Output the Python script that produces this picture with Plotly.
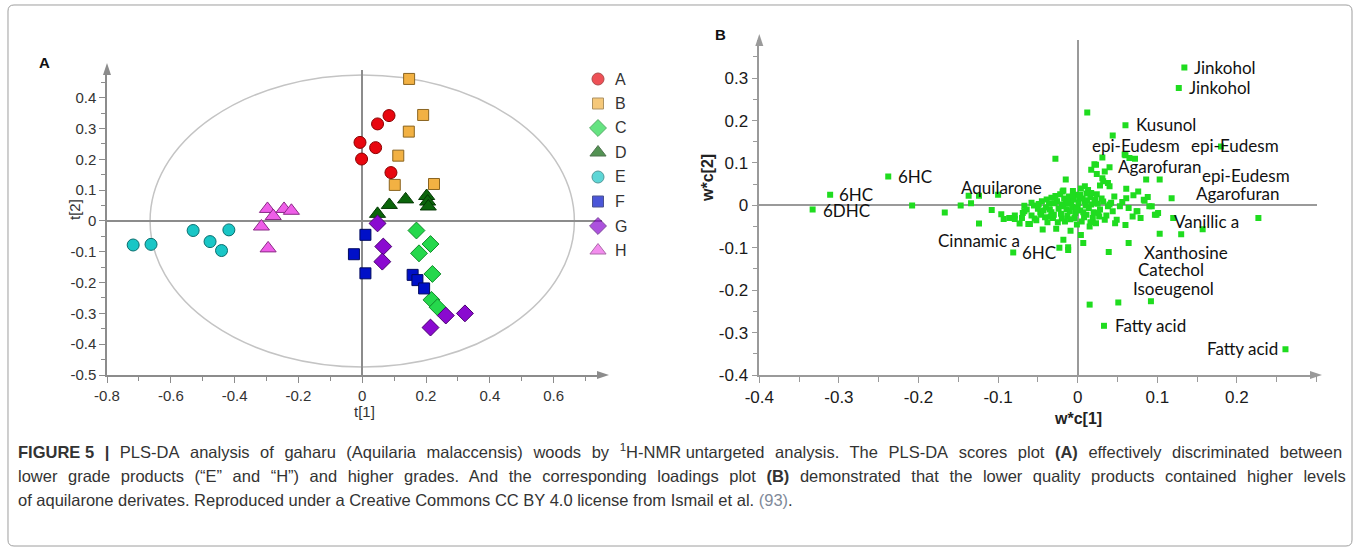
import plotly.graph_objects as go

# ---------------- Panel A: PLS-DA scores ----------------
groups = ["A", "B", "C", "D", "E", "F", "G", "H"]
a_x = [0.084, 0.048, -0.007, 0.042, -0.002, 0.090]
a_y = [0.342, 0.315, 0.255, 0.238, 0.201, 0.157]
b_x = [0.147, 0.191, 0.146, 0.113, 0.102, 0.225]
b_y = [0.461, 0.344, 0.290, 0.212, 0.117, 0.120]
c_x = [0.170, 0.214, 0.178, 0.220, 0.217, 0.236]
c_y = [-0.031, -0.075, -0.105, -0.172, -0.256, -0.280]
d_x = [0.048, 0.085, 0.136, 0.202, 0.205, 0.207]
d_y = [0.023, 0.052, 0.070, 0.081, 0.063, 0.047]
e_x = [-0.718, -0.662, -0.530, -0.477, -0.441, -0.418]
e_y = [-0.078, -0.076, -0.031, -0.067, -0.096, -0.029]
f_x = [0.010, -0.026, 0.010, 0.158, 0.173, 0.194]
f_y = [-0.045, -0.108, -0.170, -0.175, -0.192, -0.219]
g_x = [0.048, 0.066, 0.063, 0.262, 0.322, 0.214]
g_y = [-0.008, -0.083, -0.132, -0.307, -0.300, -0.346]
h_x = [-0.297, -0.279, -0.316, -0.295, -0.245, -0.222]
h_y = [0.039, 0.016, -0.018, -0.089, 0.039, 0.033]

a_xt = [-0.8, -0.6, -0.4, -0.2, 0, 0.2, 0.4, 0.6]
a_xl = ["-0.8", "-0.6", "-0.4", "-0.2", "0", "0.2", "0.4", "0.6"]
a_yt = [-0.5, -0.4, -0.3, -0.2, -0.1, 0, 0.1, 0.2, 0.3, 0.4]
a_yl = ["-0.5", "-0.4", "-0.3", "-0.2", "-0.1", "0", "0.1", "0.2", "0.3", "0.4"]

# ---------------- Panel B: loadings ----------------
load_x = [
    -0.238, -0.311, -0.333, -0.208, -0.167, -0.147, -0.137, -0.134, -0.124, -0.124,
    -0.108, -0.100, -0.096, -0.093, -0.086, -0.079, -0.079, -0.073, -0.070, -0.067,
    -0.062, -0.081,
    -0.028, -0.015, -0.067, -0.060, -0.054, -0.047, -0.044, -0.041, -0.033, -0.027,
    -0.020, -0.018, -0.014, -0.019, -0.002, -0.010, -0.023, -0.012,
    -0.012, 0.007, 0.039, 0.064, 0.060, 0.069, 0.075, 0.090, 0.083, 0.097,
    0.101, 0.103, 0.130, 0.157, 0.227, 0.118, 0.120, 0.015, 0.051, 0.092,
    0.033, 0.261,
    -0.069, -0.046, -0.035, -0.031, -0.020, -0.016, -0.010, -0.008, -0.004, 0.000,
    0.005, 0.009, 0.011, 0.017, 0.019, 0.023, 0.028, 0.032, 0.034, 0.038,
    0.044, 0.049, 0.053,
    0.134, 0.127, 0.012, 0.060, 0.044, 0.180, 0.031, 0.060, 0.065, 0.072,
    0.023, 0.040, 0.017, 0.024, 0.034, 0.031, 0.028, 0.038, 0.086, 0.103,
    0.009, 0.061, 0.076, 0.017, -0.018, 0.003, 0.046, 0.061, 0.084, 0.093,
    0.040, 0.074, 0.099, 0.059, 0.021, 0.032, 0.040,
    -0.040, -0.036, -0.030, -0.026, -0.024, -0.021, -0.017, -0.013, -0.011, -0.007,
    -0.005, -0.003, 0.001, 0.003, 0.006, 0.008, 0.012, 0.014, 0.016, 0.020,
    0.022, 0.025, 0.027, -0.045, -0.050, -0.055, -0.058, -0.038, -0.028, -0.006,
    0.004, 0.013, -0.033, -0.015, 0.010, 0.024, -0.001, 0.015, -0.009, 0.004,
    -0.064, -0.058, -0.052, -0.049, -0.043, -0.039, -0.034, -0.029, -0.025, -0.022,
    -0.018, -0.013, -0.009, -0.006, -0.002, 0.002, 0.007, 0.011, 0.016, 0.021,
    0.026, 0.030, 0.036, 0.042, 0.047, 0.056, 0.064, 0.070, 0.079, 0.088,
]
load_y = [
    0.068, 0.025, -0.010, 0.000, -0.017, 0.000, 0.023, 0.005, 0.023, -0.043,
    -0.011, 0.025, -0.021, -0.032, -0.030, -0.024, -0.032, -0.043, -0.030, -0.001,
    -0.044, -0.111,
    0.110, 0.061, -0.014, -0.044, -0.031, -0.016, -0.057, -0.028, -0.016, -0.055,
    -0.031, -0.081, -0.010, 0.033, 0.025, 0.005, -0.100, -0.099,
    -0.105, -0.089, -0.110, -0.089, -0.046, -0.026, -0.014, -0.002, 0.013, -0.022,
    -0.018, -0.067, -0.068, -0.056, -0.030, 0.017, -0.030, -0.234, -0.229, -0.226,
    -0.284, -0.339,
    -0.018, -0.022, -0.010, -0.030, 0.002, -0.038, -0.014, 0.009, -0.030, -0.006,
    -0.038, 0.009, -0.022, 0.002, -0.030, -0.042, -0.010, 0.009, -0.034, -0.002,
    -0.014, -0.034, -0.002,
    0.325, 0.277, 0.219, 0.189, 0.165, 0.139, 0.113, 0.118, 0.112, 0.110,
    0.096, 0.090, 0.084, 0.074, 0.080, 0.064, 0.047, 0.053, 0.061, 0.061,
    0.045, 0.039, 0.033, 0.029, 0.035, 0.025, 0.021, 0.017, 0.011, -0.002,
    0.002, -0.014, -0.022, 0.120, 0.097, 0.057, 0.045,
    -0.005, 0.004, -0.022, 0.010, -0.008, -0.020, 0.016, -0.025, 0.021, -0.004,
    0.014, -0.018, 0.006, -0.012, 0.016, -0.028, 0.012, -0.006, 0.020, -0.016,
    0.013, 0.004, -0.026, 0.010, -0.008, 0.000, -0.024, -0.040, 0.022, 0.034,
    0.040, 0.036, 0.018, 0.004, 0.000, 0.026, -0.045, -0.050, -0.060, -0.070,
    -0.010, 0.006, -0.035, 0.003, -0.012, 0.014, -0.026, 0.005, -0.040, 0.026,
    -0.002, 0.008, -0.033, 0.024, -0.010, 0.018, -0.016, 0.028, -0.040, 0.006,
    -0.018, 0.016, -0.024, 0.006, -0.042, 0.008, -0.006, 0.024, -0.030, 0.020,
]

lab_text = ["6HC", "6HC", "6DHC", "Aquilarone", "Cinnamic a", "6HC", "Jinkohol", "Jinkohol",
            "Kusunol", "epi-Eudesm", "epi-Eudesm", "Agarofuran", "epi-Eudesm", "Agarofuran",
            "Vanillic a", "Xanthosine", "Catechol", "Isoeugenol", "Fatty acid", "Fatty acid"]
lab_x = [-0.228, -0.302, -0.323, -0.096, -0.070, -0.072, 0.143, 0.137,
         0.071, 0.073, 0.197, 0.104, 0.211, 0.202,
         0.162, 0.136, 0.117, 0.120, 0.044, 0.254]
lab_y = [0.068, 0.025, -0.012, 0.043, -0.083, -0.112, 0.325, 0.277,
         0.190, 0.142, 0.142, 0.092, 0.071, 0.029,
         -0.039, -0.110, -0.152, -0.195, -0.284, -0.337]
lab_anchor = ["left", "left", "left", "center", "right", "left", "left", "left",
              "left", "center", "center", "center", "center", "center",
              "center", "center", "center", "center", "left", "right"]

b_xt = [-0.4, -0.3, -0.2, -0.1, 0, 0.1, 0.2]
b_xl = ["-0.4", "-0.3", "-0.2", "-0.1", "0", "0.1", "0.2"]
b_yt = [-0.4, -0.3, -0.2, -0.1, 0, 0.1, 0.2, 0.3]
b_yl = ["-0.4", "-0.3", "-0.2", "-0.1", "0", "0.1", "0.2", "0.3"]

caption = [
    "<b>FIGURE 5 |</b> PLS-DA analysis of gaharu (Aquilaria malaccensis) woods by <sup>1</sup>H-NMR untargeted analysis. "
    "The PLS-DA scores plot <b>(A)</b> effectively discriminated between",
    "lower grade products (\u201cE\u201d and \u201cH\u201d) and higher grades. And the corresponding loadings plot <b>(B)</b> "
    "demonstrated that the lower quality products contained higher levels",
    "of aquilarone derivates. Reproduced under a Creative Commons CC BY 4.0 license from Ismail et al. "
    "<span style='color:#7f8a99'>(93)</span>.",
]
cap_justify = [True, True, False]

# ---------------- styling ----------------
W, H = 1360, 550
styles = {
    "A": dict(symbol="circle", color="#e8070f", line="#8a0000", size=12),
    "B": dict(symbol="square", color="#f2b143", line="#8a6420", size=11),
    "C": dict(symbol="diamond", color="#25d84c", line="#128a2a", size=13),
    "D": dict(symbol="triangle-up", color="#0b650b", line="#053805", size=14),
    "E": dict(symbol="circle", color="#19c6c6", line="#0a6e6e", size=12),
    "F": dict(symbol="square", color="#0010c8", line="#000a60", size=11),
    "G": dict(symbol="diamond", color="#8a0ad0", line="#4a0070", size=13),
    "H": dict(symbol="triangle-up", color="#ef5ee8", line="#8a2a86", size=14),
}
series = {"A": (a_x, a_y), "B": (b_x, b_y), "C": (c_x, c_y), "D": (d_x, d_y),
          "E": (e_x, e_y), "F": (f_x, f_y), "G": (g_x, g_y), "H": (h_x, h_y)}

fig = go.Figure()
for g in groups:
    s = styles[g]
    xs, ys = series[g]
    fig.add_trace(go.Scatter(
        x=xs, y=ys, mode="markers", name=g, xaxis="x", yaxis="y", showlegend=False,
        marker=dict(symbol=s["symbol"], size=s["size"], color=s["color"],
                    line=dict(color=s["line"], width=1)),
    ))

fig.add_trace(go.Scatter(
    x=load_x, y=load_y, mode="markers", xaxis="x2", yaxis="y2", showlegend=False,
    marker=dict(symbol="square", size=6, color="#1fdc1f", line=dict(width=0)),
))

# manual legend markers (pixel overlay axis x3/y3)
leg_x0, leg_y0, leg_dy = 598, 79, 24.5
leg_ys = [leg_y0 + i * leg_dy for i in range(len(groups))]
fig.add_trace(go.Scatter(
    x=[leg_x0] * len(groups), y=leg_ys,
    mode="markers", xaxis="x3", yaxis="y3", showlegend=False,
    marker=dict(symbol=[styles[g]["symbol"] for g in groups],
                size=[styles[g]["size"] for g in groups],
                color=[styles[g]["color"] for g in groups],
                line=dict(color=[styles[g]["line"] for g in groups], width=1)),
))


def px_x(p):
    return p / W


def px_y(p):
    return 1 - p / H


tickfontA = dict(family="Liberation Sans, Arial, sans-serif", size=15, color="#333333")
tickfontB = dict(family="Liberation Sans, Arial, sans-serif", size=17, color="#1a1a1a")

common_axis = dict(showgrid=False, automargin=False, ticks="outside", ticklen=6, showline=True,
                   linewidth=1.5, zeroline=True, zerolinewidth=1.5)

fig.update_layout(
    width=W, height=H,
    margin=dict(l=0, r=0, t=0, b=0, autoexpand=False),
    paper_bgcolor="white", plot_bgcolor="rgba(0,0,0,0)",
    showlegend=False,
    xaxis=dict(domain=[px_x(107), px_x(601.5)], range=[-0.8, 0.75],
               tickmode="array", tickvals=a_xt, ticktext=a_xl, tickfont=tickfontA,
               zerolinecolor="#8c8c8c", linecolor="#8c8c8c", tickcolor="#8c8c8c",
               minor=dict(tickmode="linear", tick0=0, dtick=0.1, ticks="outside", ticklen=4,
                          tickcolor="#8c8c8c", showgrid=False),
               anchor="y", **common_axis),
    yaxis=dict(domain=[px_y(375), px_y(70)], range=[-0.5, 0.49],
               tickmode="array", tickvals=a_yt, ticktext=a_yl, tickfont=tickfontA,
               zerolinecolor="#8c8c8c", linecolor="#8c8c8c", tickcolor="#8c8c8c",
               minor=dict(tickmode="linear", tick0=0, dtick=0.05, ticks="outside", ticklen=4,
                          tickcolor="#8c8c8c", showgrid=False),
               anchor="x", **common_axis),
    xaxis2=dict(domain=[px_x(759.3), px_x(1316.5)], range=[-0.4, 0.3],
                tickmode="array", tickvals=b_xt, ticktext=b_xl, tickfont=tickfontB,
                zerolinecolor="#9a9a9a", linecolor="#9a9a9a", tickcolor="#9a9a9a",
                minor=dict(tickmode="linear", tick0=0, dtick=0.05, ticks="outside", ticklen=5,
                           tickcolor="#9a9a9a", showgrid=False),
                anchor="y2", **common_axis),
    yaxis2=dict(domain=[px_y(375), px_y(40)], range=[-0.4, 0.39],
                tickmode="array", tickvals=b_yt, ticktext=b_yl, tickfont=tickfontB,
                zerolinecolor="#9a9a9a", linecolor="#9a9a9a", tickcolor="#9a9a9a",
                minor=dict(tickmode="linear", tick0=0, dtick=0.05, ticks="outside", ticklen=5,
                           tickcolor="#9a9a9a", showgrid=False),
                anchor="x2", **common_axis),
    xaxis3=dict(domain=[0, 1], range=[0, W], visible=False, automargin=False, anchor="y3",
                fixedrange=True),
    yaxis3=dict(domain=[0, 1], range=[H, 0], visible=False, automargin=False, anchor="x3",
                fixedrange=True),
)


def pixel_path(points):
    segs = []
    for p in points:
        cmd = p[0]
        coords = p[1:]
        pairs = [f"{coords[i] / W:.5f},{1 - coords[i + 1] / H:.5f}" for i in range(0, len(coords), 2)]
        segs.append(cmd + " " + " ".join(pairs))
    return " ".join(segs) + " Z"


shapes = []
# confidence ellipse (Hotelling T2)
shapes.append(dict(type="circle", xref="x", yref="y", x0=-0.665, x1=0.665, y0=-0.474, y1=0.474,
                   line=dict(color="#c4c4c4", width=1.5), layer="below"))
# arrowheads on axes (pixel positions)
arrow_specs = [
    ([("M", 107, 63), ("L", 103, 75), ("L", 111, 75)], "#8c8c8c"),
    ([("M", 609, 375), ("L", 597, 371), ("L", 597, 379)], "#8c8c8c"),
    ([("M", 759.3, 34), ("L", 755.3, 46), ("L", 763.3, 46)], "#9a9a9a"),
    ([("M", 1322, 375), ("L", 1310, 371), ("L", 1310, 379)], "#9a9a9a"),
]
for pts, col in arrow_specs:
    shapes.append(dict(type="path", xref="paper", yref="paper", path=pixel_path(pts),
                       fillcolor=col, line=dict(width=0)))
# rounded outer frame
x0, y0, x1, y1, r = 8, 5, 1352, 546, 6
frame = [("M", x0 + r, y0), ("L", x1 - r, y0), ("Q", x1, y0, x1, y0 + r), ("L", x1, y1 - r),
         ("Q", x1, y1, x1 - r, y1), ("L", x0 + r, y1), ("Q", x0, y1, x0, y1 - r), ("L", x0, y0 + r),
         ("Q", x0, y0, x0 + r, y0)]
shapes.append(dict(type="path", xref="paper", yref="paper", path=pixel_path(frame),
                   line=dict(color="#9e9e9e", width=1)))
fig.update_layout(shapes=shapes)

ann = []


def pann(px, py, text, size, color="#333333", xanchor="center", yanchor="middle", angle=0,
         family="Liberation Sans, Arial, sans-serif"):
    ann.append(dict(x=px_x(px), y=px_y(py), xref="paper", yref="paper", text=text, showarrow=False,
                    xanchor=xanchor, yanchor=yanchor, textangle=angle,
                    font=dict(family=family, size=size, color=color)))


# legend labels
for g, ly in zip(groups, leg_ys):
    pann(613, ly, g, 16, "#333333", xanchor="left")

# panel letters
pann(37, 62, "<b>A</b>", 15, "#111111", xanchor="left")
pann(713, 35, "<b>B</b>", 15, "#111111", xanchor="left")

# axis titles
pann(364, 411, "t[1]", 15, "#333333")
pann(74, 210, "t[2]", 15, "#333333", angle=-90)
pann(1078, 418, "<b>w*c[1]</b>", 16, "#222222")
pann(707, 178, "<b>w*c[2]</b>", 16, "#222222", angle=-90)

# loading labels
for t, lx, ly, anc in zip(lab_text, lab_x, lab_y, lab_anchor):
    ann.append(dict(x=lx, y=ly, xref="x2", yref="y2", text=t, showarrow=False,
                    xanchor=anc, yanchor="middle",
                    font=dict(family="Lato, Open Sans, sans-serif", size=17, color="#111111")))

# caption (first two lines widened to mimic justified text)
cap_y = [451, 476, 500]
for line, cy, just in zip(caption, cap_y, cap_justify):
    txt = line
    if just:
        parts = txt.split(" ")
        out = []
        for i, w in enumerate(parts):
            out.append(w)
            if i < len(parts) - 1:
                inside_tag = w.startswith("<") and not w.endswith(">")
                out.append(" " if inside_tag else "\u00a0\u200a ")
        txt = "".join(out)
    pann(16, cy, txt, 16.5, "#333333", xanchor="left")

fig.update_layout(annotations=ann)
fig.write_html("out.html")
